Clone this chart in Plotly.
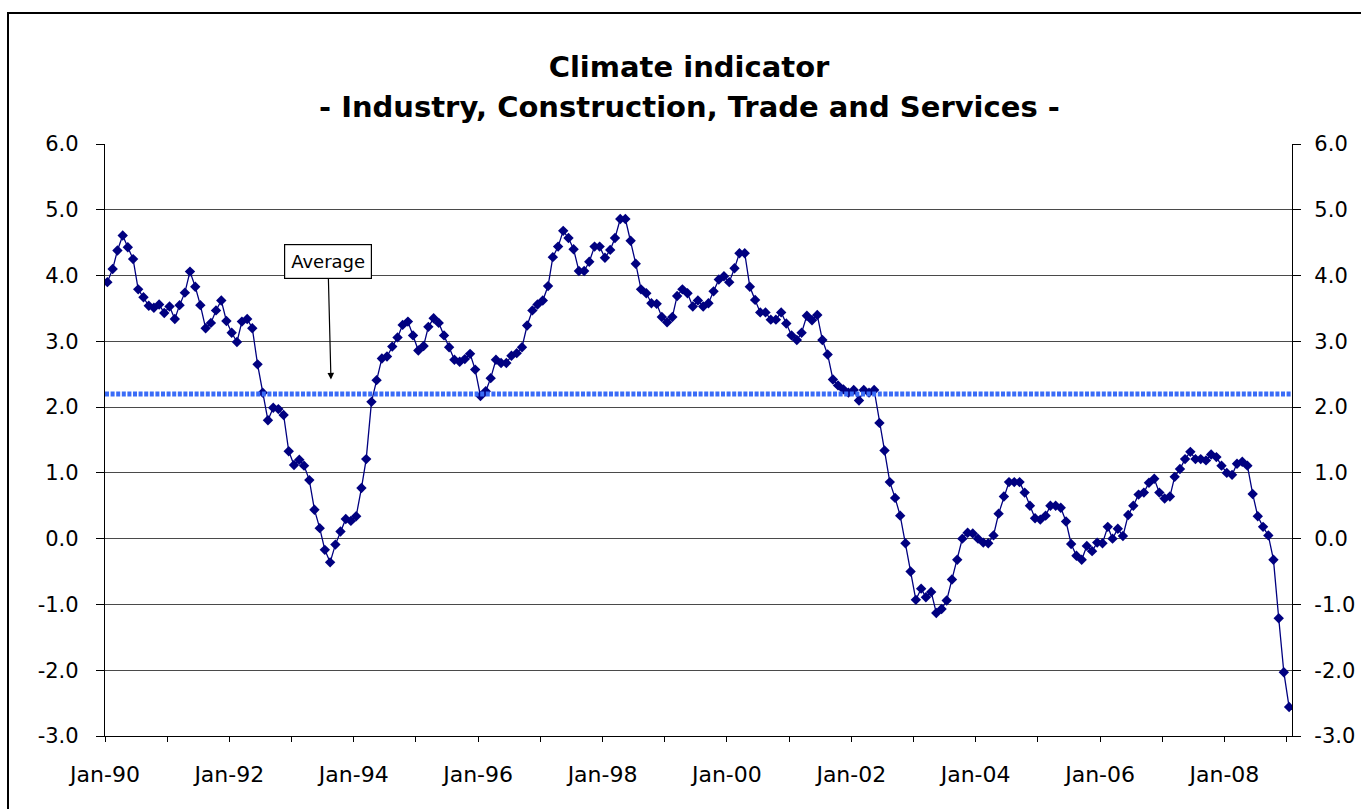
import pandas as pd
import plotly.graph_objects as go

# ---- data (monthly, Jan-1990 .. Jan-2009) ----
climate_1990_1992 = [3.90, 4.10, 4.38, 4.61, 4.43, 4.25, 3.79, 3.67, 3.54, 3.51, 3.56, 3.43,
                     3.53, 3.34, 3.55, 3.74, 4.06, 3.83, 3.55, 3.20, 3.28, 3.47, 3.62, 3.31,
                     3.13, 2.99, 3.30, 3.34, 3.20, 2.65, 2.22, 1.80, 1.99, 1.97, 1.88, 1.33]
climate_1993_1995 = [1.12, 1.20, 1.11, 0.89, 0.44, 0.16, -0.17, -0.36, -0.09, 0.11, 0.30, 0.27,
                     0.34, 0.77, 1.21, 2.08, 2.41, 2.74, 2.77, 2.92, 3.06, 3.25, 3.30, 3.09,
                     2.86, 2.93, 3.22, 3.35, 3.28, 3.09, 2.91, 2.72, 2.69, 2.73, 2.81, 2.57]
climate_1996_1998 = [2.17, 2.24, 2.44, 2.72, 2.67, 2.67, 2.78, 2.82, 2.91, 3.24, 3.47, 3.56,
                     3.62, 3.84, 4.28, 4.44, 4.68, 4.57, 4.40, 4.07, 4.07, 4.21, 4.44, 4.44,
                     4.27, 4.39, 4.57, 4.86, 4.86, 4.53, 4.18, 3.79, 3.73, 3.58, 3.57, 3.37]
climate_1999_2001 = [3.29, 3.37, 3.69, 3.79, 3.73, 3.53, 3.62, 3.53, 3.58, 3.76, 3.94, 3.99,
                     3.90, 4.11, 4.34, 4.34, 3.83, 3.63, 3.44, 3.44, 3.33, 3.33, 3.44, 3.27,
                     3.09, 3.02, 3.13, 3.39, 3.32, 3.40, 3.02, 2.80, 2.42, 2.33, 2.27, 2.22]
climate_2002_2004 = [2.26, 2.10, 2.26, 2.22, 2.26, 1.76, 1.34, 0.86, 0.62, 0.35, -0.07, -0.50,
                     -0.93, -0.76, -0.89, -0.81, -1.13, -1.07, -0.94, -0.62, -0.32, 0.00, 0.09, 0.08,
                     0.00, -0.06, -0.07, 0.05, 0.38, 0.64, 0.86, 0.86, 0.86, 0.70, 0.50, 0.31]
climate_2005_2007 = [0.29, 0.35, 0.50, 0.50, 0.47, 0.26, -0.08, -0.26, -0.32, -0.11, -0.19, -0.06,
                     -0.07, 0.18, 0.00, 0.15, 0.04, 0.36, 0.50, 0.67, 0.70, 0.85, 0.91, 0.70,
                     0.61, 0.64, 0.94, 1.06, 1.21, 1.32, 1.21, 1.21, 1.19, 1.28, 1.24, 1.11]
climate_2008_2009 = [1.00, 0.97, 1.14, 1.17, 1.11, 0.68, 0.34, 0.18, 0.05, -0.32, -1.21, -2.03,
                     -2.56]

AVERAGE = 2.2
TITLE_LINE1 = "Climate indicator"
TITLE_LINE2 = "- Industry, Construction, Trade and Services -"
ANNOTATION_TEXT = "Average"
Y_TICK_VALUES = [-3, -2, -1, 0, 1, 2, 3, 4, 5, 6]
Y_TICK_LABELS = ["-3.0", "-2.0", "-1.0", "0.0", "1.0", "2.0", "3.0", "4.0", "5.0", "6.0"]

values = (climate_1990_1992 + climate_1993_1995 + climate_1996_1998 + climate_1999_2001
          + climate_2002_2004 + climate_2005_2007 + climate_2008_2009)
months = pd.date_range("1990-01-01", periods=len(values), freq="MS") + pd.Timedelta(days=14)

X_START = "1990-01-01"
X_END = "2009-02-01"

FONT = "DejaVu Sans, Verdana, sans-serif"

W, H = 1361, 809
ML, MT, MR, MB = 105, 144, 69, 73
PW = W - ML - MR
PH = H - MT - MB

fig = go.Figure()

fig.add_trace(go.Scatter(
    x=months, y=values, mode="lines+markers",
    line=dict(color="#000080", width=1.3),
    marker=dict(symbol="diamond", size=8, color="#000080"),
    showlegend=False, hoverinfo="x+y",
))

# average line drawn above the series
fig.add_trace(go.Scatter(
    x=[X_START, X_END], y=[AVERAGE, AVERAGE], mode="lines",
    line=dict(color="#3A6CF7", width=5, dash="4px,1.6px"),
    showlegend=False, hoverinfo="y",
))

# invisible traces to activate the right-hand axes (labels / tick marks)
for ax_name in ("y2", "y3"):
    fig.add_trace(go.Scatter(x=[X_START], y=[AVERAGE], yaxis=ax_name, mode="markers",
                             marker=dict(opacity=0), showlegend=False, hoverinfo="skip"))

yaxis_common = dict(
    range=[-3, 6], tickmode="array", tickvals=Y_TICK_VALUES, ticktext=Y_TICK_LABELS,
    ticks="outside", ticklen=8, tickcolor="black", tickwidth=1,
    tickfont=dict(family=FONT, size=21, color="black"),
    zeroline=False, fixedrange=True, automargin=False, showgrid=False,
)

fig.update_layout(
    width=W, height=H,
    paper_bgcolor="white", plot_bgcolor="white",
    margin=dict(l=ML, r=MR, t=MT, b=MB, autoexpand=False),
    title=dict(text="<b>" + TITLE_LINE1 + "</b>", x=689 / W, xref="container", xanchor="center",
               y=1 - 67 / H, yref="container", yanchor="middle",
               font=dict(family=FONT, size=29, color="black")),
    xaxis=dict(
        type="date", range=[X_START, X_END],
        tick0="1990-01-01", dtick="M24", tickformat="%b-%y",
        ticks="outside", ticklen=5, tickcolor="black",
        minor=dict(dtick="M12", ticks="outside", ticklen=5, tickcolor="black", showgrid=False),
        showgrid=False, showline=True, linecolor="black", linewidth=1.3,
        tickfont=dict(family=FONT, size=22, color="black"),
        ticklabelstandoff=13, automargin=False,
    ),
    yaxis={**yaxis_common, "showgrid": True, "gridcolor": "#4a4a4a", "gridwidth": 1,
           "ticklabelstandoff": 13, "showline": True, "linecolor": "black", "linewidth": 1.3},
    # right labels: invisible longer ticks push labels outward
    yaxis2={**yaxis_common, "overlaying": "y", "side": "right", "ticklen": 17,
            "tickcolor": "rgba(0,0,0,0)", "showline": True, "linecolor": "black",
            "linewidth": 1.3},
    # right tick marks only
    yaxis3={**yaxis_common, "overlaying": "y", "side": "right", "showticklabels": False,
            "showline": False},
    annotations=[
        dict(
            x="1993-08-20", y=2.42, xref="x", yref="y",
            text=ANNOTATION_TEXT, showarrow=True, ax=-3, ay=-118,
            arrowhead=2, arrowsize=1.1, arrowwidth=1.2, arrowcolor="black",
            font=dict(family=FONT, size=18, color="black"),
            bgcolor="white", bordercolor="black", borderwidth=1.2, borderpad=6,
        ),
        dict(
            x=(689 - ML) / PW, y=(H - MB - 107) / PH, xref="paper", yref="paper",
            xanchor="center", yanchor="middle", showarrow=False,
            text="<b>" + TITLE_LINE2 + "</b>",
            font=dict(family=FONT, size=29, color="black"),
        ),
    ],
    shapes=[dict(
        type="path", xref="paper", yref="paper", layer="above",
        path="M {x0},{y0} L {x0},{y1} L {x1},{y1}".format(
            x0=(8 - ML) / PW, y0=-0.3, y1=(H - MB - 13) / PH, x1=1.3),
        line=dict(color="black", width=2),
    )],
)

# remove the default 8px body margin so the figure fills the window exactly
fig.write_html("out.html", config={"displayModeBar": False},
               post_script="document.body.style.margin='0';")
